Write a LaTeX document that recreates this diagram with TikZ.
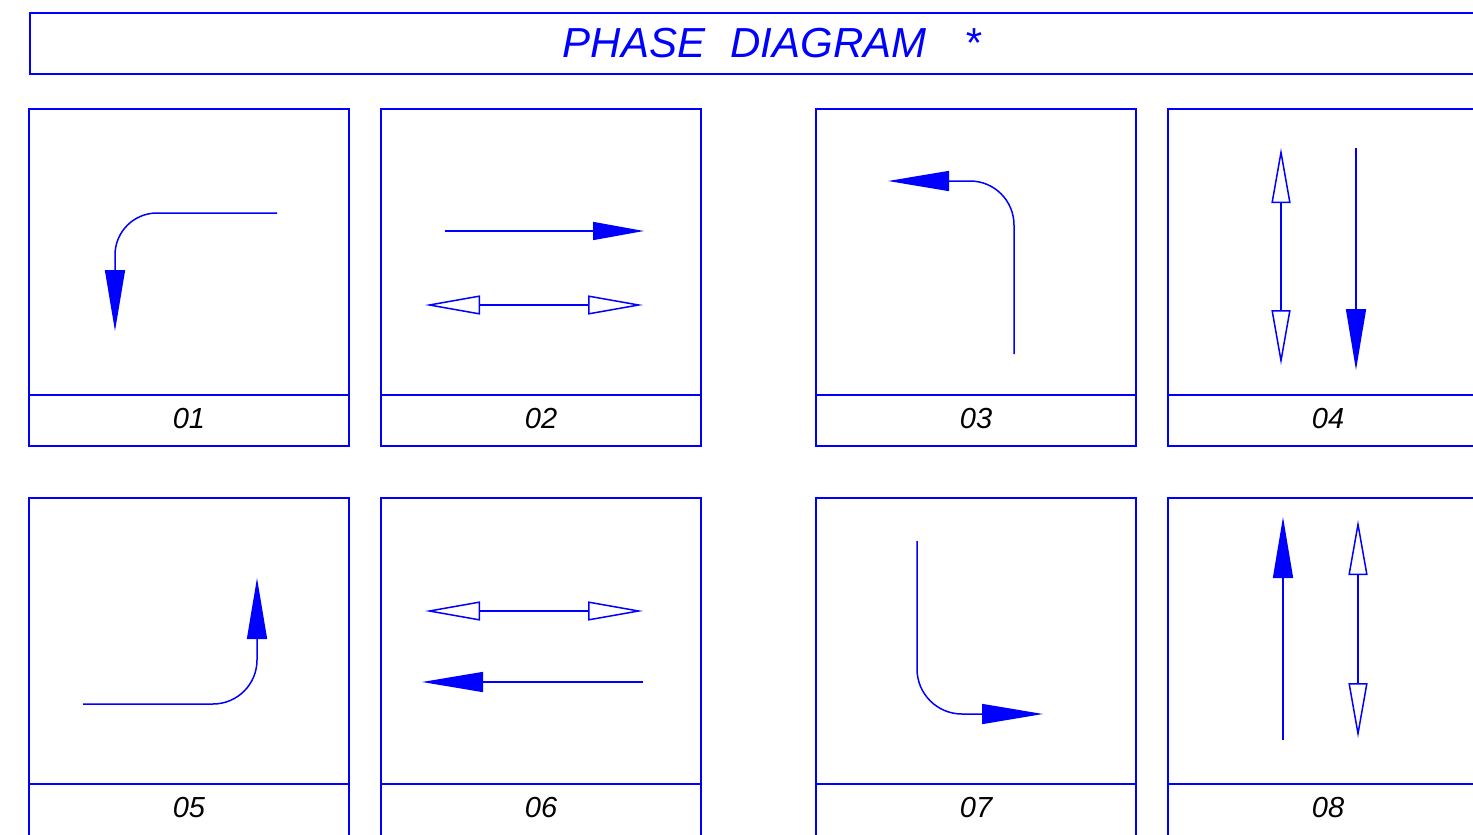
\documentclass[tikz,border=0pt]{standalone}
\usepackage{fontspec}
\setmainfont{Liberation Sans}
\usetikzlibrary{arrows.meta, positioning}
\definecolor{cadblue}{RGB}{0,0,255}
\tikzset{
  panel/.style={draw=cadblue, line width=1.5pt, outer sep=0pt, inner sep=0pt, minimum width=320pt, minimum height=286pt},
  tag/.style={draw=cadblue, line width=1.5pt, outer sep=0pt, inner sep=0pt, minimum width=320pt, minimum height=51pt},
  num/.style={font=\itshape\fontsize{29}{29}\selectfont},
  wire/.style={cadblue, line width=1.5pt},
  solidarr/.style={wire, -{Triangle[length=61pt, width=20pt]}},
  openarr/.style={wire, {Triangle[open, length=55pt, width=19pt]}-{Triangle[open, length=55pt, width=19pt]}},
}

\begin{document}
\begin{tikzpicture}[x=1pt, y=-1pt]
  \useasboundingbox (0,0) rectangle (1473,835);
  % title
  \node[draw=cadblue, line width=1.5pt, anchor=north west, minimum width=1484pt, minimum height=61pt,
        text=cadblue, font=\itshape\fontsize{42}{42}\selectfont] (title) at (29,12)
        {PHASE\hspace{0.6em}DIAGRAM\hspace{0.9em}*};

  % panels with their tags
  \foreach \px/\py/\th/\n in {29/109/51/01, 381/109/51/02, 816/109/51/03, 1168/109/51/04,
                              29/498/62/05, 381/498/62/06, 816/498/62/07, 1168/498/62/08} {
    \node[panel, anchor=north west] (p\n) at (\px,\py) {};
    \node[tag, below=0pt of p\n, minimum height=\th pt] (t\n) {};
    \node[num] (n\n) at ([yshift=-24pt]p\n.south) {\n};
  }

  % 01
  \coordinate (s1) at (277,213);
  \coordinate (e1) at (115,331);
  \draw[solidarr, rounded corners=42pt] (s1) -| (e1);

  % 02
  \coordinate (s2) at (445,231);
  \coordinate (e2) at (644,231);
  \draw[wire, -{Triangle[length=51pt, width=18pt]}] (s2) -- (e2);
  \coordinate (l2) at (425,305);
  \coordinate (r2) at (643,305);
  \draw[openarr] (l2) -- (r2);

  % 03
  \coordinate (s3) at (1014,354);
  \coordinate (e3) at (888,181);
  \draw[solidarr, rounded corners=44pt] (s3) |- (e3);

  % 04
  \coordinate (u4) at (1281,148);
  \coordinate (d4) at (1281,365);
  \draw[openarr] (u4) -- (d4);
  \coordinate (s4) at (1356,148);
  \coordinate (e4) at (1356,370);
  \draw[solidarr] (s4) -- (e4);

  % 05
  \coordinate (s5) at (83,704);
  \coordinate (e5) at (257,578);
  \draw[solidarr, rounded corners=44pt] (s5) -| (e5);

  % 06
  \coordinate (l6) at (425,611);
  \coordinate (r6) at (643,611);
  \draw[openarr] (l6) -- (r6);
  \coordinate (s6) at (643,682);
  \coordinate (e6) at (422,682);
  \draw[solidarr] (s6) -- (e6);

  % 07
  \coordinate (s7) at (917,541);
  \coordinate (e7) at (1043,714);
  \draw[solidarr, rounded corners=45pt] (s7) |- (e7);

  % 08
  \coordinate (s8) at (1283,740);
  \coordinate (e8) at (1283,517);
  \draw[solidarr] (s8) -- (e8);
  \coordinate (u8) at (1358,520);
  \coordinate (d8) at (1358,738);
  \draw[openarr] (u8) -- (d8);
\end{tikzpicture}
\end{document}
